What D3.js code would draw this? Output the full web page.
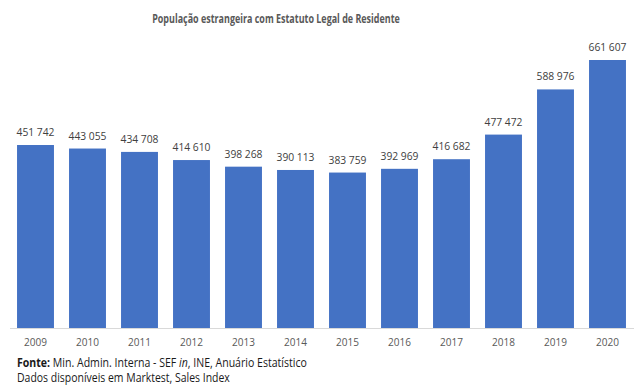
<!DOCTYPE html>
<html><head><meta charset="utf-8">
<script src="https://cdn.jsdelivr.net/npm/d3@7"></script>
<style>body{margin:0;background:#fff}svg{display:block}text{font-family:"Open Sans",sans-serif}</style>
</head><body><svg id="c" width="640" height="389"></svg>
<script>
const years = ["2009","2010","2011","2012","2013","2014","2015","2016","2017","2018","2019","2020"];
const values = [451742,443055,434708,414610,398268,390113,383759,392969,416682,477472,588976,661607];
const labels = ["451 742","443 055","434 708","414 610","398 268","390 113","383 759","392 969","416 682","477 472","588 976","661 607"];
const title = "População estrangeira com Estatuto Legal de Residente";

const svg = d3.select("#c");
const x = d3.scaleBand().domain(years).range([9.5, 633.5]).paddingInner(0.29).paddingOuter(0.145);
const y = d3.scaleLinear().domain([0, 661607]).range([328, 60]);

// squeeze a text horizontally to a target width, anchored at (ax, ay)
function fit(g, t, target, anchor) {
  const w = t.node().getComputedTextLength();
  const s = Math.min(1, target / w);
  const ax = +g.attr("data-x"), ay = +g.attr("data-y");
  g.attr("transform", `translate(${ax},${ay}) scale(${s},1)`);
}
function line(xp, yp, size, weight, fill, anchor) {
  const g = svg.append("g").attr("data-x", xp).attr("data-y", yp);
  const t = g.append("text").attr("x", 0).attr("y", 0).attr("font-size", size)
    .attr("font-weight", weight).attr("fill", fill).attr("text-anchor", anchor);
  return [g, t];
}

let [tg, tt] = line(276, 23, 12.5, "bold", "#595959", "middle");
tt.text(title); fit(tg, tt, 248);

svg.selectAll("rect.bar").data(values).join("rect").attr("class","bar")
  .attr("x",(d,i)=>x(years[i])).attr("width",x.bandwidth())
  .attr("y",d=>y(d)).attr("height",d=>y(0)-y(d)).attr("fill","#4472C4");

svg.selectAll("text.val").data(values).join("text").attr("class","val")
  .attr("x",(d,i)=>x(years[i])+x.bandwidth()/2).attr("y",d=>y(d)-9)
  .attr("text-anchor","middle").attr("font-size",11.5).attr("fill","#404040")
  .attr("textLength",38).attr("lengthAdjust","spacingAndGlyphs")
  .text((d,i)=>labels[i]);

const ax = svg.append("g").attr("transform","translate(0,328)")
  .call(d3.axisBottom(x).tickSize(0).tickPadding(10));
ax.select(".domain").attr("stroke","#d9d9d9");
ax.selectAll("text").attr("font-size",11.5).attr("fill","#595959")
  .attr("textLength",23).attr("lengthAdjust","spacingAndGlyphs");

let [f1g, f1] = line(17, 367, 12, "normal", "#1a1a1a", "start");
f1.append("tspan").attr("font-weight","bold").text("Fonte:");
f1.append("tspan").text(" Min. Admin. Interna - SEF ");
f1.append("tspan").attr("font-style","italic").text("in");
f1.append("tspan").text(", INE, Anuário Estatístico");
fit(f1g, f1, 290);
let [f2g, f2] = line(17, 382, 12, "normal", "#1a1a1a", "start");
f2.text("Dados disponíveis em Marktest, Sales Index");
fit(f2g, f2, 213);
</script></body></html>
